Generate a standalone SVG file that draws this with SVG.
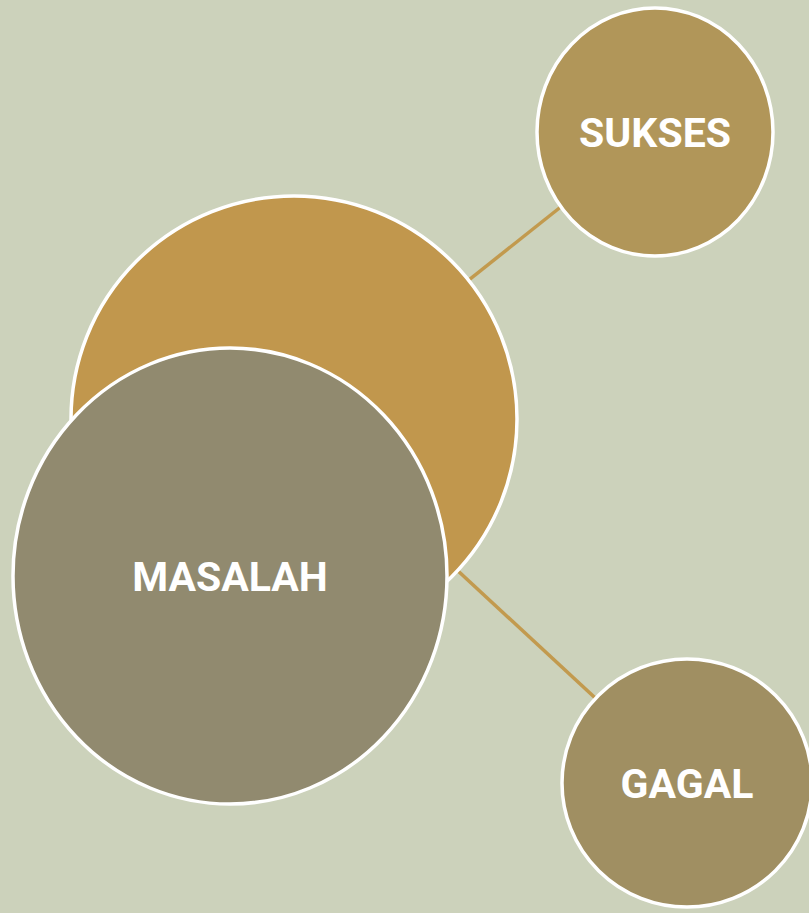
<svg xmlns="http://www.w3.org/2000/svg" width="809" height="913" viewBox="0 0 809 913">
<style>
.node{stroke:#FFFFFF;stroke-width:3.5}
.lbl{font-family:Roboto,"Liberation Sans",sans-serif;font-weight:bold;font-size:41px;fill:#FFFFFF;text-anchor:middle}
.conn{stroke:#C29A4E;stroke-width:3.5;fill:none}
</style>
<rect width="809" height="913" fill="#CCD2BB"/>
<g id="connectors">
<line class="conn" x1="294" y1="419" x2="655" y2="132"/>
<line class="conn" x1="294" y1="419" x2="687" y2="783"/>
</g>
<g id="hub">
<circle class="node" cx="294" cy="419" r="223" fill="#C1974D"/>
</g>
<g id="masalah">
<ellipse class="node" cx="230" cy="576" rx="217" ry="228" fill="#918A6F"/>
<text class="lbl" x="230" y="591">MASALAH</text>
</g>
<g id="sukses">
<ellipse class="node" cx="655" cy="132" rx="118" ry="124" fill="#B19659"/>
<text class="lbl" x="655" y="147">SUKSES</text>
</g>
<g id="gagal">
<ellipse class="node" cx="687" cy="783" rx="125" ry="124" fill="#A08F62"/>
<text class="lbl" x="687" y="798">GAGAL</text>
</g>
</svg>
